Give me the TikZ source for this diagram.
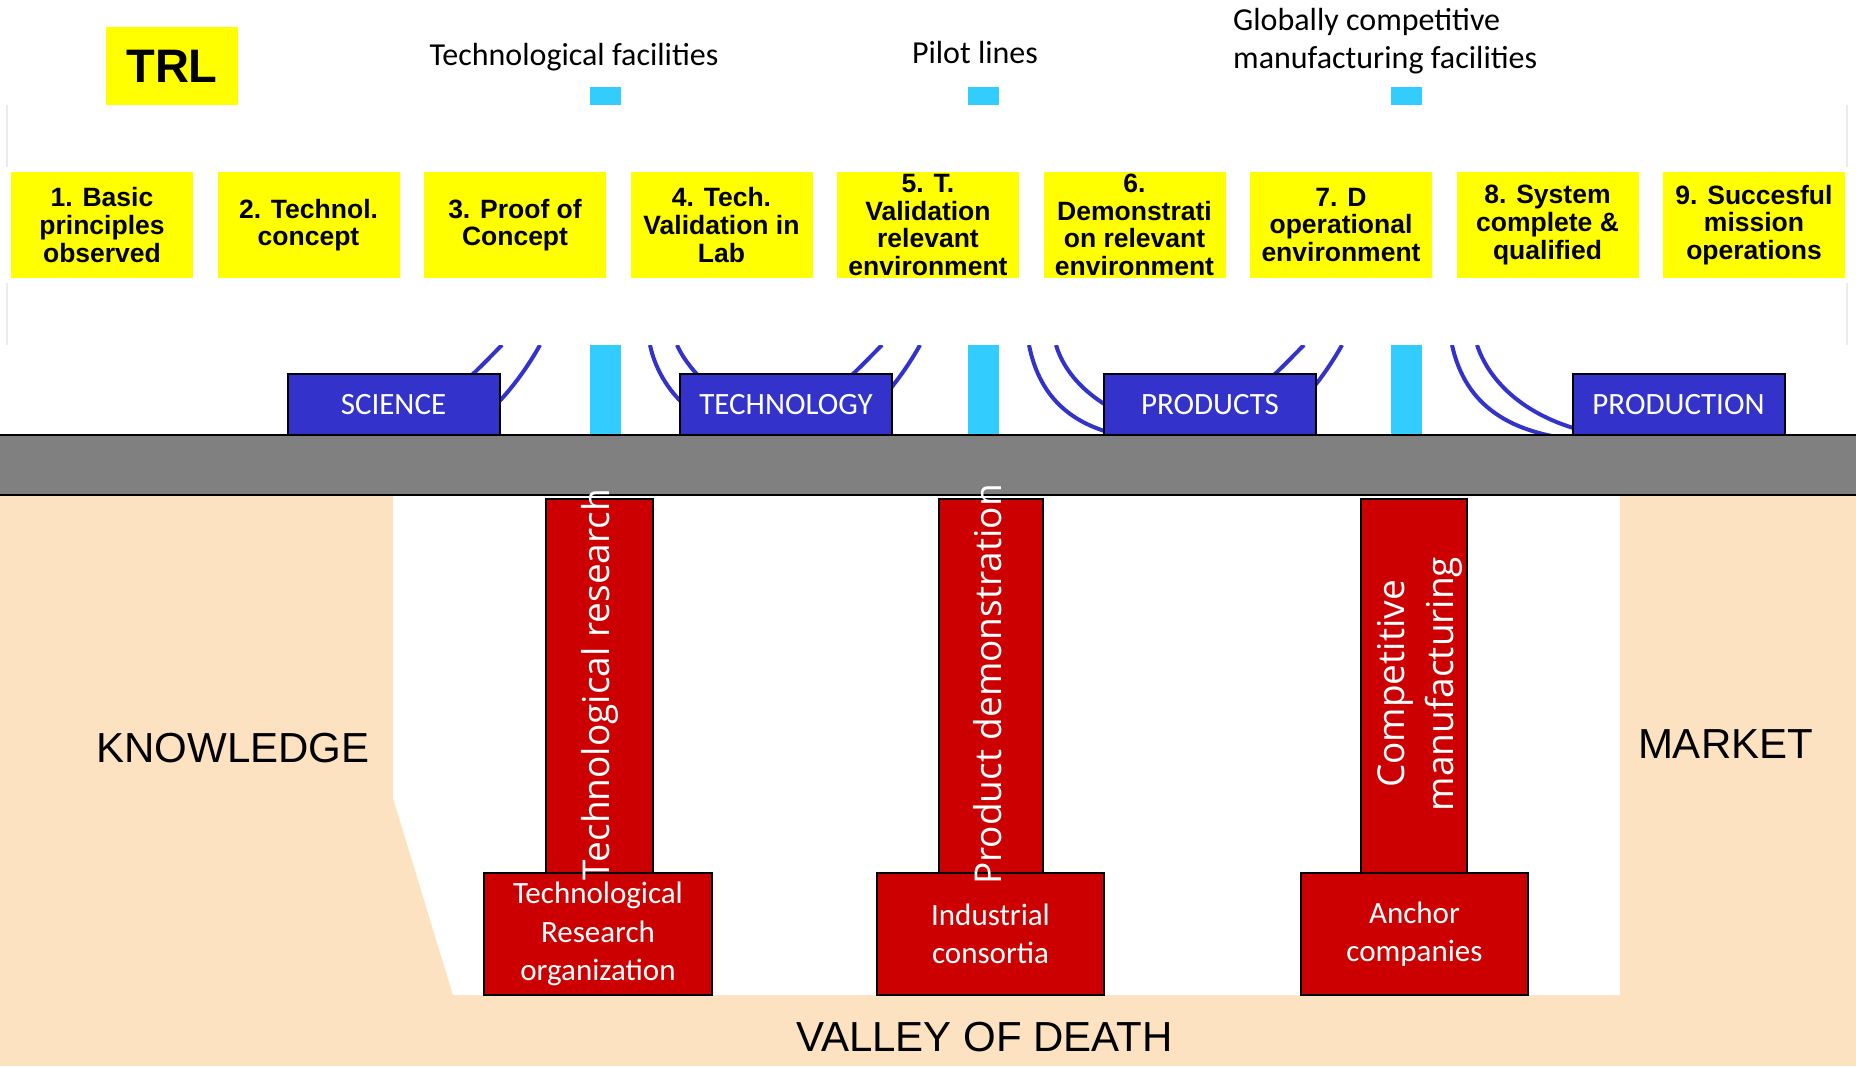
\documentclass[tikz,border=0pt]{standalone}
\usepackage{fontspec}
\setmainfont{Carlito}
\newfontfamily\arialf{Liberation Sans}
\newfontfamily\opensansf{Open Sans}
\definecolor{trlyellow}{RGB}{255,255,0}
\definecolor{catblue}{RGB}{51,51,204}
\definecolor{facicyan}{RGB}{51,204,255}
\definecolor{pillarred}{RGB}{204,0,0}
\definecolor{bargray}{RGB}{128,128,128}
\definecolor{peach}{RGB}{252,226,192}
\definecolor{faintgray}{RGB}{235,235,235}
\begin{document}
\begin{tikzpicture}[x=1pt,y=-1pt,
  levelbox/.style={fill=trlyellow, minimum width=182pt, minimum height=106pt, inner sep=0pt, align=center,
    font=\arialf\bfseries\fontsize{26.5}{27.6}\selectfont},
  catbox/.style={fill=catblue, draw=black, line width=2pt, minimum width=212pt, minimum height=61pt,
    inner sep=0pt, text=white, font=\fontsize{31}{36}\selectfont},
  cyanpiece/.style={fill=facicyan, inner sep=0pt, minimum width=31pt},
  redbox/.style={fill=pillarred, draw=black, line width=2pt, inner sep=0pt},
  basetext/.style={text=white, align=center, font=\fontsize{31}{38.5}\selectfont},
  pillartext/.style={text=white, rotate=90, inner sep=0pt, align=center, font=\opensansf\fontsize{37}{49}\selectfont},
  toplabel/.style={inner sep=0pt, font=\fontsize{32}{38.5}\selectfont},
  biglabel/.style={inner sep=0pt, font=\arialf\fontsize{42}{48}\selectfont},
  bluearc/.style={draw=catblue, line width=4pt},
  faintline/.style={draw=faintgray, line width=2pt}
]
\useasboundingbox (0,0) rectangle (1856,1066);
\fill[white] (0,0) rectangle (1856,1066);

% valley background
\fill[peach] (0,495) rectangle (1856,1066);
\fill[white] (393,495) -- (393,798) -- (453,995) -- (1620,995) -- (1620,495) -- cycle;

% faint slide edges
\draw[faintline] (7,105) -- (7,167);
\draw[faintline] (7,283) -- (7,345);
\draw[faintline] (1847,105) -- (1847,167);
\draw[faintline] (1847,283) -- (1847,345);

% TRL label
\node[fill=trlyellow, minimum width=132pt, minimum height=78pt, inner sep=0pt,
  font=\arialf\bfseries\fontsize{47}{50}\selectfont] (trl) at (172,66) {TRL};

% top labels
\node[toplabel, anchor=base] (labtf) at (574,65) {Technological facilities};
\node[toplabel, anchor=base] (labpl) at (975,63) {Pilot lines};
\node[toplabel, anchor=west, align=left] (labgc) at (1233,41) {Globally competitive\\manufacturing facilities};

% cyan squares
\node[cyanpiece, minimum height=18pt] (sq1) at (605.5,96) {};
\node[cyanpiece, minimum height=18pt] (sq2) at (983,96) {};
\node[cyanpiece, minimum height=18pt] (sq3) at (1406.5,96) {};

% TRL levels
\node[levelbox] (l1) at (102,225)    {1. Basic\\principles\\observed};
\node[levelbox] (l2) at (308.5,225)  {2. Technol.\\concept};
\node[levelbox] (l3) at (515,225)    {3. Proof of\\Concept};
\node[levelbox] (l4) at (721.5,225)  {4. Tech.\\Validation in\\Lab};
\node[levelbox] (l5) at (928,225)    {5. T.\\Validation\\relevant\\environment};
\node[levelbox] (l6) at (1134.5,225) {6.\\Demonstrati\\on relevant\\environment};
\node[levelbox] (l7) at (1341,225)   {7. D\\operational\\environment};
\node[levelbox] (l8) at (1547.5,225) {8. System\\complete \&\\qualified};
\node[levelbox] (l9) at (1754,225)   {9. Succesful\\mission\\operations};

% arcs (clipped)
\begin{scope}
\clip (0,345) rectangle (1856,436);
\draw[bluearc] (502,345) .. controls (485,362) and (440,410) .. (395,437);
\draw[bluearc] (540,345) .. controls (525,372) and (495,415) .. (455,437);
\draw[bluearc] (650,345) .. controls (660,392) and (700,430) .. (755,437);
\draw[bluearc] (677,345) .. controls (690,375) and (740,425) .. (815,437);
\draw[bluearc] (882,345) .. controls (865,362) and (820,410) .. (775,437);
\draw[bluearc] (920,345) .. controls (905,372) and (875,415) .. (835,437);
\draw[bluearc] (1029,345) .. controls (1040,400) and (1075,428) .. (1130,437);
\draw[bluearc] (1056,345) .. controls (1068,385) and (1110,420) .. (1192,437);
\draw[bluearc] (1304,345) .. controls (1287,362) and (1242,410) .. (1197,437);
\draw[bluearc] (1342,345) .. controls (1327,372) and (1297,415) .. (1257,437);
\draw[bluearc] (1452,345) .. controls (1462,390) and (1490,425) .. (1557,437);
\draw[bluearc] (1477,345) .. controls (1492,390) and (1540,428) .. (1617,437);
\end{scope}

% cyan bars
\node[cyanpiece, minimum height=90pt] (cb1) at (605.5,390) {};
\node[cyanpiece, minimum height=90pt] (cb2) at (983,390) {};
\node[cyanpiece, minimum height=90pt] (cb3) at (1406.5,390) {};

% gray bar
\draw[fill=bargray, draw=black, line width=2pt] (-5,435) rectangle (1861,495);

% category boxes
\node[catbox] (sci)  at (393.5,404.5)  {SCIENCE};
\node[catbox] (tech) at (786,404.5)    {TECHNOLOGY};
\node[catbox] (prod) at (1210,404.5)   {PRODUCTS};
\node[catbox] (prdn) at (1678.5,404.5) {PRODUCTION};

% pillars
\node[redbox, minimum width=107pt, minimum height=374pt] (p1) at (599.5,686) {};
\node[redbox, minimum width=104pt, minimum height=374pt] (p2) at (991,686) {};
\node[redbox, minimum width=106pt, minimum height=374pt] (p3) at (1414,686) {};

% bases
\node[redbox, basetext, minimum width=228pt, minimum height=122pt] (b1) at (598,934) {Technological\\Research\\organization};
\node[redbox, basetext, minimum width=227pt, minimum height=122pt] (b2) at (990.5,934) {Industrial\\consortia};
\node[redbox, basetext, minimum width=227pt, minimum height=122pt] (b3) at (1414.5,934) {Anchor\\companies};

% pillar texts
\node[pillartext] (t1) at (600,684.5) {Technological research};
\node[pillartext] (t2) at (988,684.5) {Product demonstration};
\node[pillartext] (t3) at (1420,684) {Competitive\\manufacturing};

% big labels
\node[biglabel] (know)   at (233,748)    {KNOWLEDGE};
\node[biglabel] (market) at (1725.5,744.5) {MARKET};
\node[biglabel] (valley) at (984.5,1037) {VALLEY OF DEATH};
\end{tikzpicture}
\end{document}
